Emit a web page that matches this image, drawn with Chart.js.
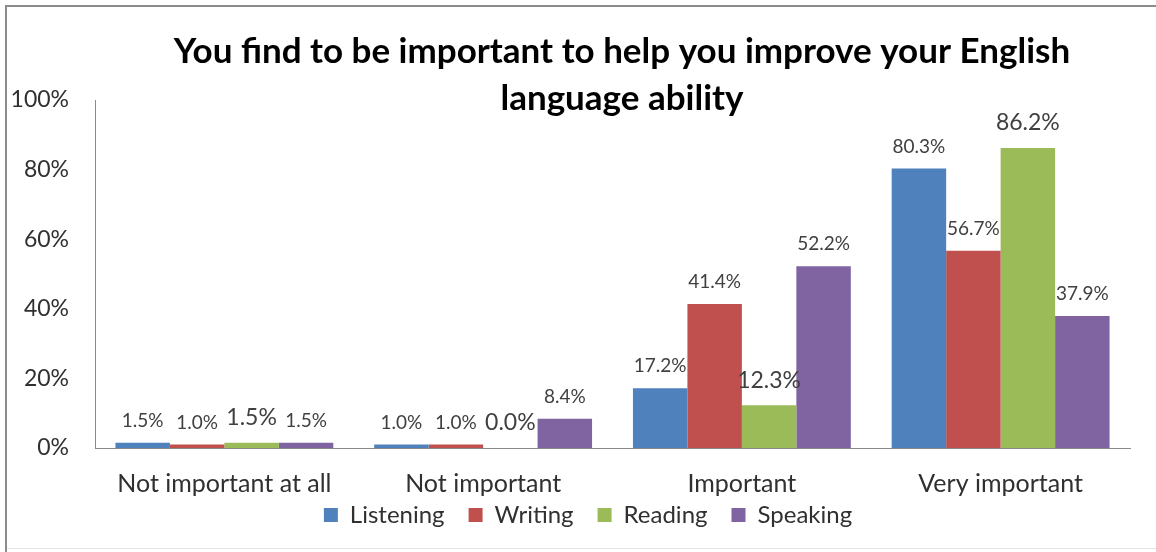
<!DOCTYPE html>
<html>
<head>
<meta charset="utf-8">
<script src="https://cdn.jsdelivr.net/npm/chart.js@4.4.0/dist/chart.umd.min.js"></script>
<style>
    html, body { margin: 0; padding: 0; background: #ffffff; }
</style>
</head>
<body>
<canvas id="myChart" width="1156" height="552"></canvas>
<script>
// datos de la grafica
var categorias = ["Not important at all", "Not important", "Important", "Very important"];
var listening = [1.5, 1.0, 17.2, 80.3];
var writing = [1.0, 1.0, 41.4, 56.7];
var reading = [1.5, 0.0, 12.3, 86.2];
var speaking = [1.5, 8.4, 52.2, 37.9];
var ticksY = [0, 20, 40, 60, 80, 100];
var titulo = ["You find to be important to help you improve your English", "language ability"];

Chart.defaults.font.family = "Lato";
Chart.defaults.color = "#404040";

// marco del grafico (linea superior e izquierda)
var marco = {
    id: 'marco',
    beforeDraw: function (chart) {
        var ctx = chart.ctx;
        ctx.save();
        ctx.fillStyle = '#ffffff';
        ctx.fillRect(0, 0, chart.width, chart.height);
        ctx.strokeStyle = '#8c8c8c';
        ctx.lineWidth = 2;
        ctx.beginPath();
        ctx.moveTo(6, chart.height);
        ctx.lineTo(6, 6);
        ctx.lineTo(chart.width, 6);
        ctx.stroke();
        ctx.strokeStyle = '#e4e4e4';
        ctx.lineWidth = 1;
        ctx.beginPath();
        ctx.moveTo(7, chart.height - 3.5);
        ctx.lineTo(chart.width, chart.height - 3.5);
        ctx.stroke();
        ctx.restore();
    }
};

// mover la leyenda para centrarla bajo las barras
var moverLeyenda = {
    id: 'moverLeyenda',
    afterLayout: function (chart) {
        var lg = chart.legend;
        lg.left += 20; lg.right += 20;
        lg.top -= 24; lg.bottom -= 24;
    }
};

// titulo en dos lineas
var tituloPlugin = {
    id: 'tituloPlugin',
    afterDraw: function (chart) {
        var ctx = chart.ctx;
        ctx.save();
        ctx.font = 'bold 35px Lato';
        ctx.fillStyle = '#000000';
        ctx.textAlign = 'center';
        ctx.textBaseline = 'middle';
        ctx.fillText(titulo[0], 622, 52);
        ctx.fillText(titulo[1], 622, 99);
        ctx.restore();
    }
};

// etiquetas de valor arriba de cada barra
var etiquetas = {
    id: 'etiquetas',
    afterDatasetsDraw: function (chart) {
        var ctx = chart.ctx;
        ctx.save();
        ctx.textAlign = 'center';
        ctx.textBaseline = 'middle';
        ctx.fillStyle = '#404040';
        chart.data.datasets.forEach(function (ds, i) {
            var meta = chart.getDatasetMeta(i);
            var grande = ds.label === 'Reading';
            ctx.font = (grande ? 23 : 19) + 'px Lato';
            meta.data.forEach(function (bar, j) {
                var txt = ds.data[j].toFixed(1) + '%';
                ctx.fillText(txt, bar.x, bar.y - (grande ? 25 : 22));
            });
        });
        ctx.restore();
    }
};

var chartdata = {
    labels: categorias,
    datasets: [
        { label: 'Listening', backgroundColor: '#4F81BD', data: listening },
        { label: 'Writing', backgroundColor: '#C0504D', data: writing },
        { label: 'Reading', backgroundColor: '#9BBB59', data: reading },
        { label: 'Speaking', backgroundColor: '#8064A2', data: speaking }
    ]
};

var barGraph = new Chart(document.getElementById('myChart'), {
    type: 'bar',
    data: chartdata,
    plugins: [marco, moverLeyenda, tituloPlugin, etiquetas],
    options: {
        responsive: false,
        animation: false,
        devicePixelRatio: 1,
        layout: { padding: { left: 6, right: 26, top: 100, bottom: -9 } },
        datasets: {
            bar: { categoryPercentage: 0.842, barPercentage: 1.0, borderWidth: 0 }
        },
        plugins: {
            title: { display: false },
            tooltip: { enabled: false },
            legend: {
                position: 'bottom',
                labels: {
                    font: { size: 24 },
                    color: '#303030',
                    boxWidth: 14,
                    boxHeight: 14,
                    padding: 24
                }
            }
        },
        scales: {
            x: {
                grid: { display: false, drawTicks: false },
                border: { display: true, color: '#8a8a8a', width: 1 },
                ticks: { font: { size: 25 }, color: '#303030', padding: 21, maxRotation: 0 },
                afterFit: function (s) { s.height = 55; }
            },
            y: {
                min: ticksY[0],
                max: ticksY[ticksY.length - 1],
                grid: { display: false, drawTicks: false },
                border: { display: true, color: '#8a8a8a', width: 1 },
                afterBuildTicks: function (s) {
                    s.ticks = ticksY.map(function (v) { return { value: v }; });
                },
                ticks: {
                    font: { size: 23 },
                    color: '#303030',
                    padding: 26,
                    callback: function (v) { return v + '%'; }
                },
                afterFit: function (s) { s.width = 89; }
            }
        }
    }
});
</script>
</body>
</html>
